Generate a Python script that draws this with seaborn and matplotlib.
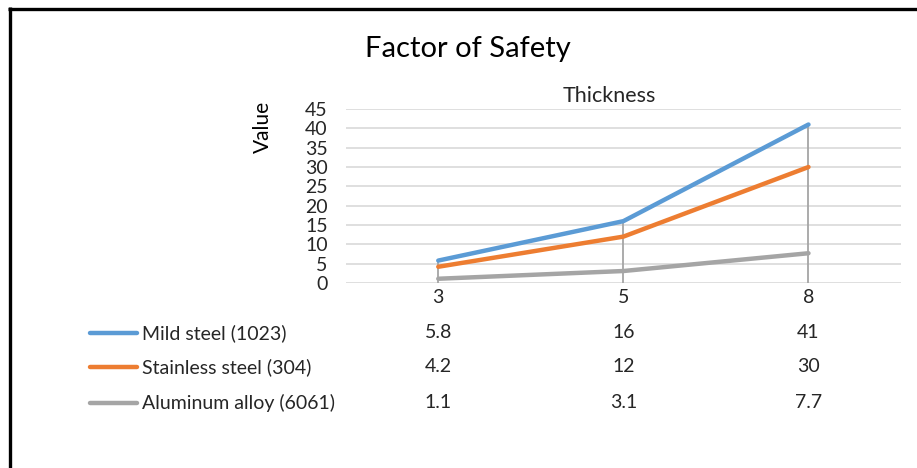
import pandas as pd
import matplotlib.pyplot as plt
import seaborn as sns
from matplotlib.lines import Line2D

thickness = ['3', '5', '8']
mild_steel = [5.8, 16, 41]
stainless_steel = [4.2, 12, 30]
aluminum_alloy = [1.1, 3.1, 7.7]
series_names = ['Mild steel (1023)', 'Stainless steel (304)', 'Aluminum alloy (6061)']
yticks = [0, 5, 10, 15, 20, 25, 30, 35, 40, 45]

colors = ['#5B9BD5', '#ED7D31', '#A5A5A5']

df = pd.DataFrame({
    'Thickness': thickness * 3,
    'Value': mild_steel + stainless_steel + aluminum_alloy,
    'Series': [n for n in series_names for _ in thickness],
})

sns.set_style('white')
plt.rcParams['font.family'] = ['Lato', 'DejaVu Sans']

fig = plt.figure(figsize=(9.17, 4.68), dpi=100)
ax = fig.add_axes([0.377, 0.3953, 0.6056, 0.3717])

# drop lines from highest point to axis
maxes = df.groupby('Thickness', sort=False)['Value'].max()
ax.vlines(range(len(thickness)), 0, maxes.values, color='#A5A5A5', lw=1.3, zorder=1)

sns.lineplot(data=df, x='Thickness', y='Value', hue='Series', palette=colors,
             lw=3.2, legend=False, ax=ax, zorder=3, solid_capstyle='round')

ax.set_xlim(-0.5, len(thickness) - 0.5)
ax.set_ylim(0, 45)
ax.set_yticks(yticks)
ax.yaxis.grid(True, color='#D9D9D9', lw=1.2)
ax.set_axisbelow(True)
for s in ax.spines.values():
    s.set_visible(False)
ax.tick_params(axis='y', labelsize=14, pad=13, length=0, labelcolor='#262626')
ax.tick_params(axis='x', labelsize=14, pad=4, length=0, labelcolor='#262626')
ax.set_xlabel('')
ax.set_ylabel('')

fig.text(609 / 917, 1 - 96 / 468, 'Thickness', fontsize=15.5, ha='center', va='center', color='#262626')
fig.text(468 / 917, 1 - 49 / 468, 'Factor of Safety', fontsize=21, ha='center', va='center', color='black')
fig.text(263 / 917, 1 - 127 / 468, 'Value', fontsize=15, rotation=90, ha='center', va='center', color='black')

# data table below the axis
row_y = [333, 367, 403]
series_vals = [mild_steel, stainless_steel, aluminum_alloy]
for name, vals, c, py in zip(series_names, series_vals, colors, row_y):
    fy = 1 - py / 468
    fig.add_artist(Line2D([90 / 917, 137 / 917], [fy, fy], color=c, lw=3.2,
                          solid_capstyle='round', transform=fig.transFigure))
    fig.text(142 / 917, fy, name, fontsize=14, ha='left', va='center', color='#262626')
    for i, v in enumerate(vals):
        t = ax.text(i, 0, f'{v:g}', fontsize=14, ha='center', va='center', color='#262626',
                    transform=ax.get_xaxis_transform(), clip_on=False)
        t.set_y(-(py - 283) / 174)

# frame on the left and top
fig.add_artist(Line2D([9.5 / 917, 9.5 / 917], [0, 1 - 7.3 / 468], color='black', lw=2.4,
                      solid_capstyle='butt', transform=fig.transFigure))
fig.add_artist(Line2D([8.3 / 917, 1], [1 - 8.5 / 468, 1 - 8.5 / 468], color='black', lw=2.4,
                      solid_capstyle='butt', transform=fig.transFigure))

fig.savefig('out.png', dpi=100)
